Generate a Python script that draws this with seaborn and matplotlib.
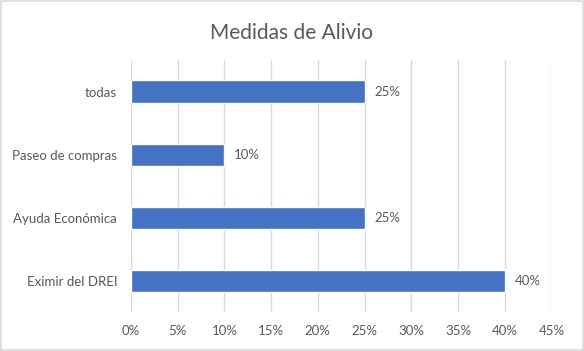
import matplotlib.pyplot as plt
import matplotlib.ticker as mticker
import pandas as pd
import seaborn as sns

# Data
categories = ["todas", "Paseo de compras", "Ayuda Económica", "Eximir del DREI"]
values = [0.25, 0.10, 0.25, 0.40]
x_ticks = [0, 0.05, 0.10, 0.15, 0.20, 0.25, 0.30, 0.35, 0.40, 0.45]

df = pd.DataFrame({"Medida": categories, "Porcentaje": values})

sns.set_style("white")
plt.rcParams["font.family"] = ["Lato", "DejaVu Sans"]

text_color = "#595959"
grid_color = "#D9D9D9"
bar_color = "#4472C4"

fig = plt.figure(figsize=(5.84, 3.51), dpi=100)
ax = fig.add_axes([0.2243, 0.111, 0.7200, 0.718])

sns.barplot(data=df, x="Porcentaje", y="Medida", order=categories,
            color=bar_color, saturation=1, width=0.35, ax=ax, zorder=3)

ax.set_xlim(0, 0.45)
ax.set_xticks(x_ticks)
ax.xaxis.set_major_formatter(mticker.PercentFormatter(1.0, decimals=0))
ax.grid(axis="x", color=grid_color, linewidth=1, zorder=0)
ax.set_axisbelow(True)
for s in ax.spines.values():
    s.set_visible(False)

ax.tick_params(axis="both", length=0, labelsize=9.5, labelcolor=text_color)
ax.tick_params(axis="x", pad=9)
ax.tick_params(axis="y", pad=10)
ax.set_xlabel("")
ax.set_ylabel("")

for cont in ax.containers:
    ax.bar_label(cont, labels=[f"{v:.0%}" for v in values], padding=7,
                 fontsize=9.5, color=text_color)

fig.suptitle("Medidas de Alivio", x=0.5, y=0.935, fontsize=15, color=text_color)

# light border around the whole chart
fig.patches.append(plt.Rectangle((0.002, 0.003), 0.996, 0.994, transform=fig.transFigure,
                                 fill=False, edgecolor=grid_color, linewidth=1.2))

fig.savefig("out.png", dpi=100)
